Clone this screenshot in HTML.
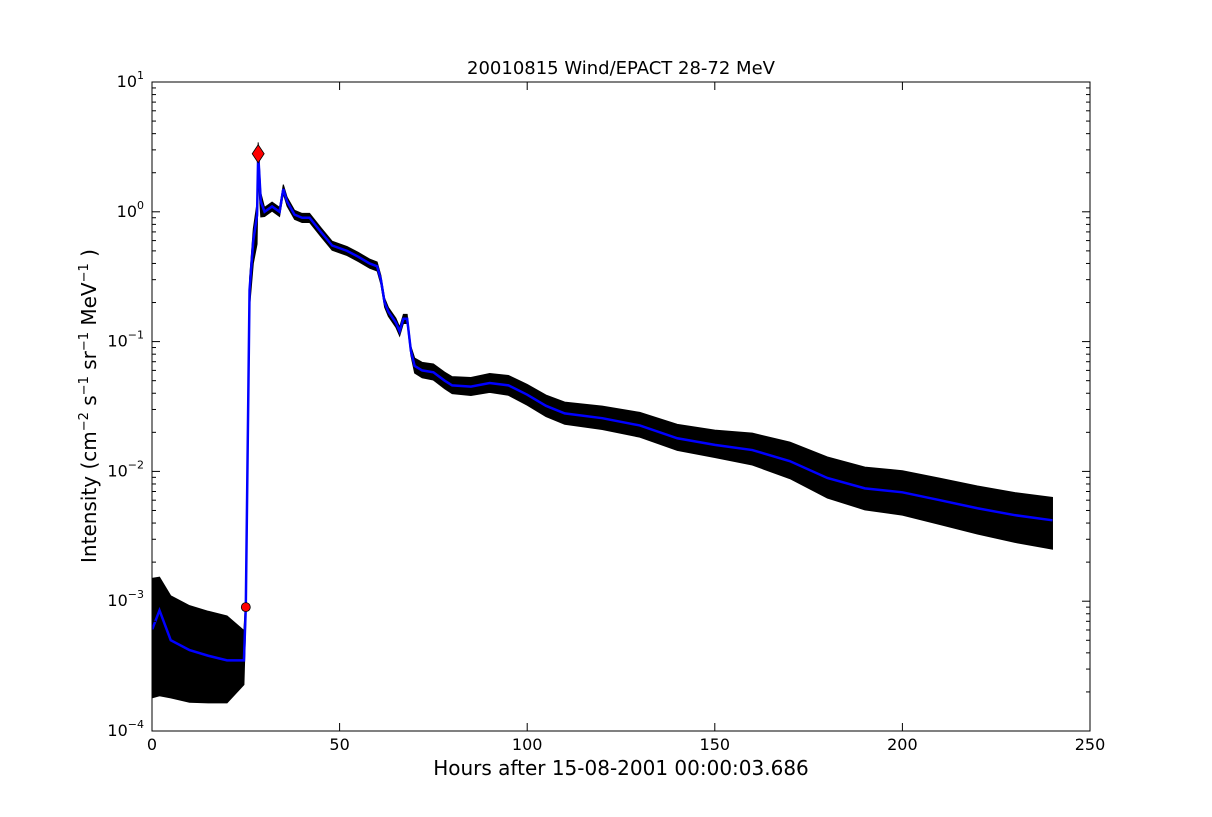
<!DOCTYPE html>
<html><head><meta charset="utf-8">
<style>
body{margin:0;background:#fff;font-family:"Liberation Sans","DejaVu Sans",sans-serif;}
svg text{font-family:"DejaVu Sans","Liberation Sans",sans-serif;}
</style></head>
<body>
<svg id="chart" width="1212" height="812" xmlns="http://www.w3.org/2000/svg">
<rect x="0" y="0" width="1212" height="812" fill="#fff"/>
<text x="621" y="74" font-size="18" text-anchor="middle">20010815 Wind/EPACT 28-72 MeV</text>
<g id="series"></g>
<g id="axes"></g>
<text x="621" y="775" font-size="20" text-anchor="middle">Hours after 15-08-2001 00:00:03.686</text>
<text transform="translate(96,406) rotate(-90)" font-size="20" text-anchor="middle">Intensity (cm<tspan font-size="13" dy="-8">−2</tspan><tspan dy="8"> s</tspan><tspan font-size="13" dy="-8">−1</tspan><tspan dy="8"> sr</tspan><tspan font-size="13" dy="-8">−1</tspan><tspan dy="8"> MeV</tspan><tspan font-size="13" dy="-8">−1</tspan><tspan dy="8"> )</tspan></text>
</svg>
<script>
const hours=[0,2,5,10,15,20,24.5,25,26,27,28,28.3,29,30,32,34,35,36,38,40,42,45,48,52,55,58,60,61,62,63,65,66,67,68,69,70,72,75,78,80,85,90,95,100,105,110,120,130,140,150,160,170,180,190,200,210,220,230,240];
const smooth=[6e-4,8.5e-4,5e-4,4.2e-4,3.8e-4,3.5e-4,3.5e-4,9e-4,0.25,0.6,0.94,2.8,1.2,1.0,1.1,1.0,1.5,1.2,0.95,0.9,0.9,0.7,0.55,0.5,0.45,0.4,0.38,0.3,0.2,0.17,0.14,0.12,0.15,0.15,0.085,0.065,0.06,0.058,0.05,0.046,0.045,0.048,0.046,0.039,0.032,0.028,0.0257,0.0226,0.018,0.016,0.0146,0.012,0.0089,0.0074,0.0069,0.006,0.0052,0.0046,0.0042];
const bandHours=[0,2,5,24,25,28,30,69,70,100,150,180,240];
const bandHigh=[2.5,1.8,2.2,2.2,1.2,1.25,1.08,1.08,1.15,1.2,1.3,1.45,1.5];
const bandLow=[0.3,0.22,0.36,0.5,0.8,0.6,0.92,0.92,0.88,0.83,0.8,0.7,0.6];
const onset=[25,9e-4];
const peak=[28.3,2.8];
const xTicks=[0,50,100,150,200,250];
const yExps=[-4,-3,-2,-1,0,1];

const X0=152,X1=1090,Y0=82,Y1=731;
const xs=h=>X0+(h/250)*(X1-X0);
const ys=v=>Y1-(Math.log10(v)+4)/5*(Y1-Y0);
const NS="http://www.w3.org/2000/svg";
function mk(t,a,p){const e=document.createElementNS(NS,t);for(const k in a)e.setAttribute(k,a[k]);p.appendChild(e);return e;}
function interp(hs,vs,h){for(let i=1;i<hs.length;i++){if(h<=hs[i]){const t=(h-hs[i-1])/(hs[i]-hs[i-1]);return vs[i-1]+t*(vs[i]-vs[i-1]);}}return vs[vs.length-1];}
const ser=document.getElementById('series');
const defs=mk('defs',{},ser);const cp=mk('clipPath',{id:'clip'},defs);mk('rect',{x:X0,y:Y0,width:X1-X0,height:Y1-Y0},cp);
const g=mk('g',{'clip-path':'url(#clip)'},ser);
let up=[],lo=[];
hours.forEach((h,i)=>{up.push(xs(h)+','+ys(smooth[i]*interp(bandHours,bandHigh,h)));lo.push(xs(h)+','+ys(smooth[i]*interp(bandHours,bandLow,h)));});
const band=mk('polygon',{points:up.concat(lo.reverse()).join(' '),fill:'#000',stroke:'#000','stroke-width':1},g);


const line=mk('polyline',{points:hours.map((h,i)=>xs(h)+','+ys(smooth[i])).join(' '),fill:'none',stroke:'#0000ff','stroke-width':2.5},g);


const om=mk('circle',{cx:xs(onset[0]),cy:ys(onset[1]),r:4.5,fill:'#ff0000',stroke:'#000','stroke-width':0.8},ser);


const px=xs(peak[0]),py=ys(peak[1]);
const pm=mk('polygon',{points:`${px},${py-9} ${px+6},${py} ${px},${py+9} ${px-6},${py}`,fill:'#ff0000',stroke:'#000','stroke-width':0.8},ser);


const ax=document.getElementById('axes');
const fr=mk('rect',{x:X0,y:Y0,width:X1-X0,height:Y1-Y0,fill:'none',stroke:'#000','stroke-width':1},ax);


xTicks.forEach(t=>{const x=xs(t);
mk('line',{x1:x,y1:Y1,x2:x,y2:Y1-8,stroke:'#000'},ax);mk('line',{x1:x,y1:Y0,x2:x,y2:Y0+8,stroke:'#000'},ax);
const tx=mk('text',{x:x,y:Y1+19,'font-size':16,'text-anchor':'middle'},ax);tx.textContent=t;

});
yExps.forEach(e=>{const y=ys(Math.pow(10,e));
mk('line',{x1:X0,y1:y,x2:X0+8,y2:y,stroke:'#000'},ax);mk('line',{x1:X1,y1:y,x2:X1-8,y2:y,stroke:'#000'},ax);
const tx=mk('text',{x:X0-8,y:y+5,'font-size':16,'text-anchor':'end'},ax);
tx.innerHTML='10<tspan font-size="11" dy="-8">'+(e<0?'−'+(-e):e)+'</tspan>';


if(e<1){for(let m=2;m<10;m++){const yy=ys(m*Math.pow(10,e));
mk('line',{x1:X0,y1:yy,x2:X0+4,y2:yy,stroke:'#000'},ax);mk('line',{x1:X1,y1:yy,x2:X1-4,y2:yy,stroke:'#000'},ax);}}});
</script>
</body></html>
